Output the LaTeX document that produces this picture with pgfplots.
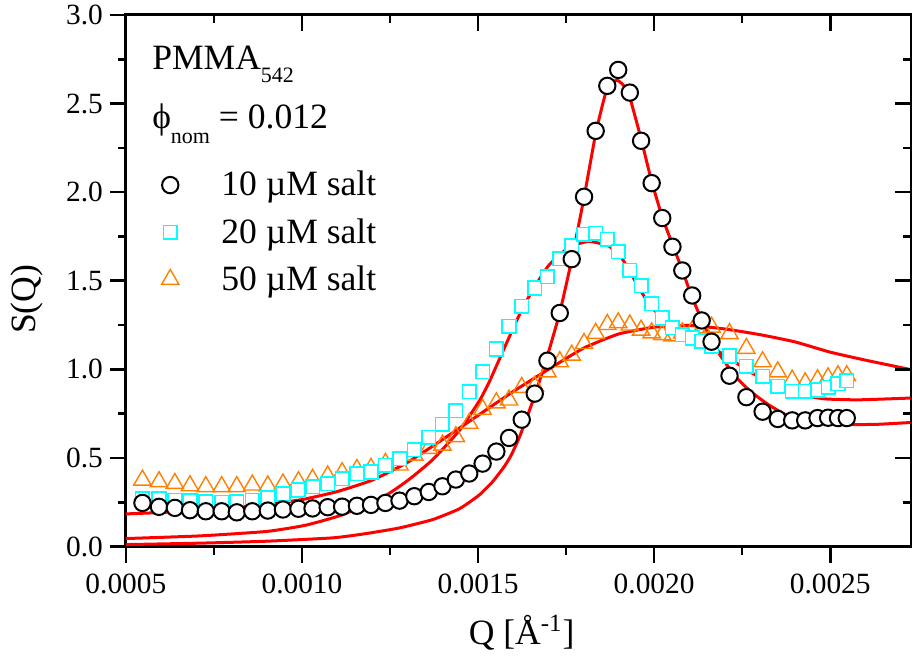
\documentclass[border=0pt]{standalone}
\usepackage{fontspec}
\setmainfont{Liberation Serif}
\usepackage{pgfplots}
\usepackage{pgfplotstable}
\pgfplotsset{compat=1.18}
\newcommand\legfont{\fontsize{17.8}{21}\selectfont}
\newcommand\tickfont{\fontsize{14.7}{17}\selectfont}
\newcommand\subfont{\fontsize{11}{13}\selectfont}
\definecolor{mycyan}{RGB}{0,255,255}
\definecolor{myorange}{RGB}{255,128,0}
\definecolor{myred}{RGB}{255,0,0}

\pgfplotstableread{
q c s t
0.000547 0.246 0.271 0.375
0.000594 0.224 0.268 0.366
0.000639 0.218 0.262 0.356
0.000682 0.205 0.257 0.343
0.000727 0.199 0.252 0.338
0.000772 0.199 0.250 0.338
0.000815 0.193 0.251 0.338
0.000859 0.199 0.262 0.347
0.000903 0.203 0.276 0.342
0.000946 0.209 0.296 0.353
0.000990 0.213 0.319 0.366
0.001030 0.215 0.337 0.379
0.001073 0.222 0.355 0.398
0.001114 0.225 0.383 0.417
0.001156 0.230 0.412 0.435
0.001196 0.235 0.421 0.441
0.001237 0.246 0.458 0.469
0.001277 0.259 0.496 0.460
0.001319 0.284 0.547 0.516
0.001360 0.308 0.616 0.554
0.001399 0.340 0.691 0.572
0.001437 0.378 0.767 0.620
0.001475 0.412 0.873 0.695
0.001513 0.468 0.986 0.774
0.001552 0.536 1.115 0.811
0.001588 0.613 1.242 0.827
0.001624 0.716 1.356 0.898
0.001661 0.863 1.459 0.905
0.001697 1.049 1.523 0.986
0.001732 1.318 1.625 1.043
0.001766 1.622 1.699 1.080
0.001801 1.974 1.762 1.146
0.001834 2.346 1.769 1.203
0.001867 2.600 1.735 1.253
0.001898 2.690 1.665 1.263
0.001931 2.562 1.559 1.250
0.001963 2.290 1.472 1.221
0.001993 2.051 1.370 1.206
0.002023 1.854 1.290 1.195
0.002052 1.692 1.235 1.189
0.002080 1.558 1.196 1.206
0.002108 1.417 1.177 1.217
0.002135 1.276 1.158 1.234
0.002163 1.156 1.130 1.238
0.002214 0.964 1.075 1.202
0.002262 0.843 1.017 1.118
0.002308 0.761 0.960 1.043
0.002351 0.720 0.904 0.986
0.002392 0.712 0.877 0.939
0.002429 0.712 0.877 0.924
0.002464 0.725 0.883 0.941
0.002494 0.727 0.899 0.952
0.002522 0.725 0.919 0.964
0.002547 0.725 0.936 0.964
}\datatab

\pgfplotstableread{
q s
0.000500 0.011
0.000710 0.019
0.000899 0.030
0.001088 0.049
0.001182 0.073
0.001277 0.105
0.001371 0.152
0.001447 0.213
0.001503 0.290
0.001541 0.365
0.001574 0.450
0.001594 0.515
0.001617 0.615
0.001639 0.730
0.001664 0.870
0.001696 1.070
0.001732 1.320
0.001766 1.620
0.001801 1.970
0.001834 2.330
0.001861 2.550
0.001880 2.620
0.001897 2.630
0.001914 2.600
0.001933 2.520
0.001963 2.300
0.001993 2.060
0.002023 1.860
0.002053 1.700
0.002080 1.560
0.002107 1.410
0.002135 1.280
0.002161 1.170
0.002184 1.090
0.002212 1.010
0.002240 0.940
0.002277 0.870
0.002325 0.800
0.002368 0.750
0.002410 0.715
0.002467 0.695
0.002552 0.688
0.002637 0.690
0.002728 0.700
}\fitA

\pgfplotstableread{
q s
0.000500 0.045
0.000710 0.060
0.000899 0.085
0.001010 0.120
0.001116 0.180
0.001239 0.290
0.001305 0.380
0.001371 0.490
0.001447 0.655
0.001503 0.820
0.001532 0.930
0.001588 1.180
0.001625 1.340
0.001662 1.470
0.001702 1.590
0.001759 1.690
0.001815 1.722
0.001872 1.695
0.001909 1.625
0.001937 1.530
0.001966 1.430
0.001995 1.345
0.002042 1.260
0.002089 1.205
0.002127 1.160
0.002184 1.100
0.002277 0.980
0.002354 0.905
0.002419 0.855
0.002487 0.833
0.002581 0.828
0.002728 0.838
}\fitB

\pgfplotstableread{
q s
0.00050 0.184
0.00060 0.192
0.00070 0.203
0.00080 0.218
0.00090 0.238
0.00100 0.265
0.00110 0.310
0.00120 0.375
0.00130 0.475
0.00140 0.605
0.00150 0.740
0.00160 0.875
0.00170 1.000
0.00180 1.120
0.00190 1.200
0.00200 1.238
0.00210 1.248
0.00220 1.228
0.00230 1.196
0.00240 1.155
0.00250 1.097
0.00260 1.052
0.00273 0.998
}\fitC

\pgfplotsset{
  circ/.style={only marks, mark=*, mark size=4.1pt, mark options={draw=black, fill=white, line width=1pt}},
  sqr/.style={only marks, mark=square*, mark size=3.4pt, mark options={draw=mycyan, fill=white, line width=0.8pt}},
  tri/.style={only marks, mark=triangle, mark size=5pt, mark options={draw=myorange, line width=0.7pt}},
  fit/.style={myred, line width=1.5pt, smooth, tension=0.3, no markers},
  legimg/.style={legend image code/.code={\draw[##1] plot coordinates {(0pt,0pt)}; \path[draw=none,fill=none] (-5pt,0pt) -- (24.6pt,0pt);}},
}

\begin{document}
\begin{tikzpicture}
\begin{axis}[
  scale only axis, width=393pt, height=266pt,
  xmin=0.0005, xmax=0.00273, ymin=0, ymax=3,
  scaled x ticks=false, scaled y ticks=false,
  xtick={0.0005,0.001,0.0015,0.002,0.0025},
  ytick={0,0.5,1,1.5,2,2.5,3},
  minor xtick={0.00075,0.00125,0.00175,0.00225},
  minor ytick={0.25,0.75,1.25,1.75,2.25,2.75},
  tickwidth=8pt, subtickwidth=4pt,
  axis line style={black, line width=1.5pt},
  xtick pos=left, ytick pos=left, tick align=outside,
  xticklabels={0.0005,0.0010,0.0015,0.0020,0.0025},
  yticklabels={0.0,0.5,1.0,1.5,2.0,2.5,3.0},
  ticklabel style={font=\tickfont},
  xticklabel style={yshift=-2pt},
  xlabel={Q [Å\textsuperscript{-1}]},
  ylabel={S(Q)},
  label style={font=\legfont},
  xlabel style={at={(axis description cs:0.504,0)}, anchor=base, yshift=-49pt},
  ylabel style={at={(axis description cs:-0.126,0.465)}, anchor=center, rotate=0},
  legend cell align=left,
  legend style={at={(rel axis cs:0,1)}, anchor=north west, xshift=17pt, yshift=-77pt,
    draw=none, fill=none, inner sep=0pt, font=\legfont, row sep=7.75pt,
    nodes={inner sep=1pt}},
]
\addlegendimage{circ, legimg}
\addlegendentry{10 µM salt}
\addlegendimage{sqr, legimg}
\addlegendentry{20 µM salt}
\addlegendimage{tri, legimg}
\addlegendentry{50 µM salt}

\addplot[tri, forget plot] table[x=q, y=t] {\datatab};
\addplot[fit, forget plot] table[x=q, y=s] {\fitC};
\addplot[fit, forget plot] table[x=q, y=s] {\fitB};
\addplot[fit, forget plot] table[x=q, y=s] {\fitA};
\addplot[sqr, forget plot] table[x=q, y=s] {\datatab};
\addplot[circ, forget plot] table[x=q, y=c] {\datatab};

\node[anchor=base west, inner sep=0pt, font=\legfont, xshift=13pt, yshift=-27.5pt] at (rel axis cs:0,1)
  {PMMA\raisebox{-6.5pt}{\subfont 542}};
\node[anchor=base west, inner sep=0pt, font=\legfont, xshift=13pt, yshift=-56.7pt] at (rel axis cs:0,1)
  {ϕ\raisebox{-7.5pt}{\subfont nom} = 0.012};
\end{axis}
% tick marks: bottom/left outward, top/right inward (all pointing down / left)
\foreach \o/\l in {0/8,44.06/4,88.12/8,132.17/4,176.23/8,220.29/4,264.35/8,308.41/4,352.47/8} {
  \draw[black, line width=1.3pt] ([xshift=\o pt]current axis.south west) -- ++(0pt,-\l pt);
  \draw[black, line width=1.3pt] ([xshift=\o pt]current axis.north west) -- ++(0pt,-\l pt);
}
\foreach \o/\l in {0/8,22.17/4,44.33/8,66.5/4,88.67/8,110.83/4,133/8,155.17/4,177.33/8,199.5/4,221.67/8,243.83/4,266/8} {
  \draw[black, line width=1.3pt] ([yshift=\o pt]current axis.south west) -- ++(-\l pt,0pt);
  \draw[black, line width=1.3pt] ([yshift=\o pt]current axis.south east) -- ++(-\l pt,0pt);
}
\pgfresetboundingbox
\path[use as bounding box] ([xshift=-63pt,yshift=-58.5pt]current axis.south west) rectangle ([xshift=0.4pt,yshift=7.5pt]current axis.north east);
\end{tikzpicture}
\end{document}
